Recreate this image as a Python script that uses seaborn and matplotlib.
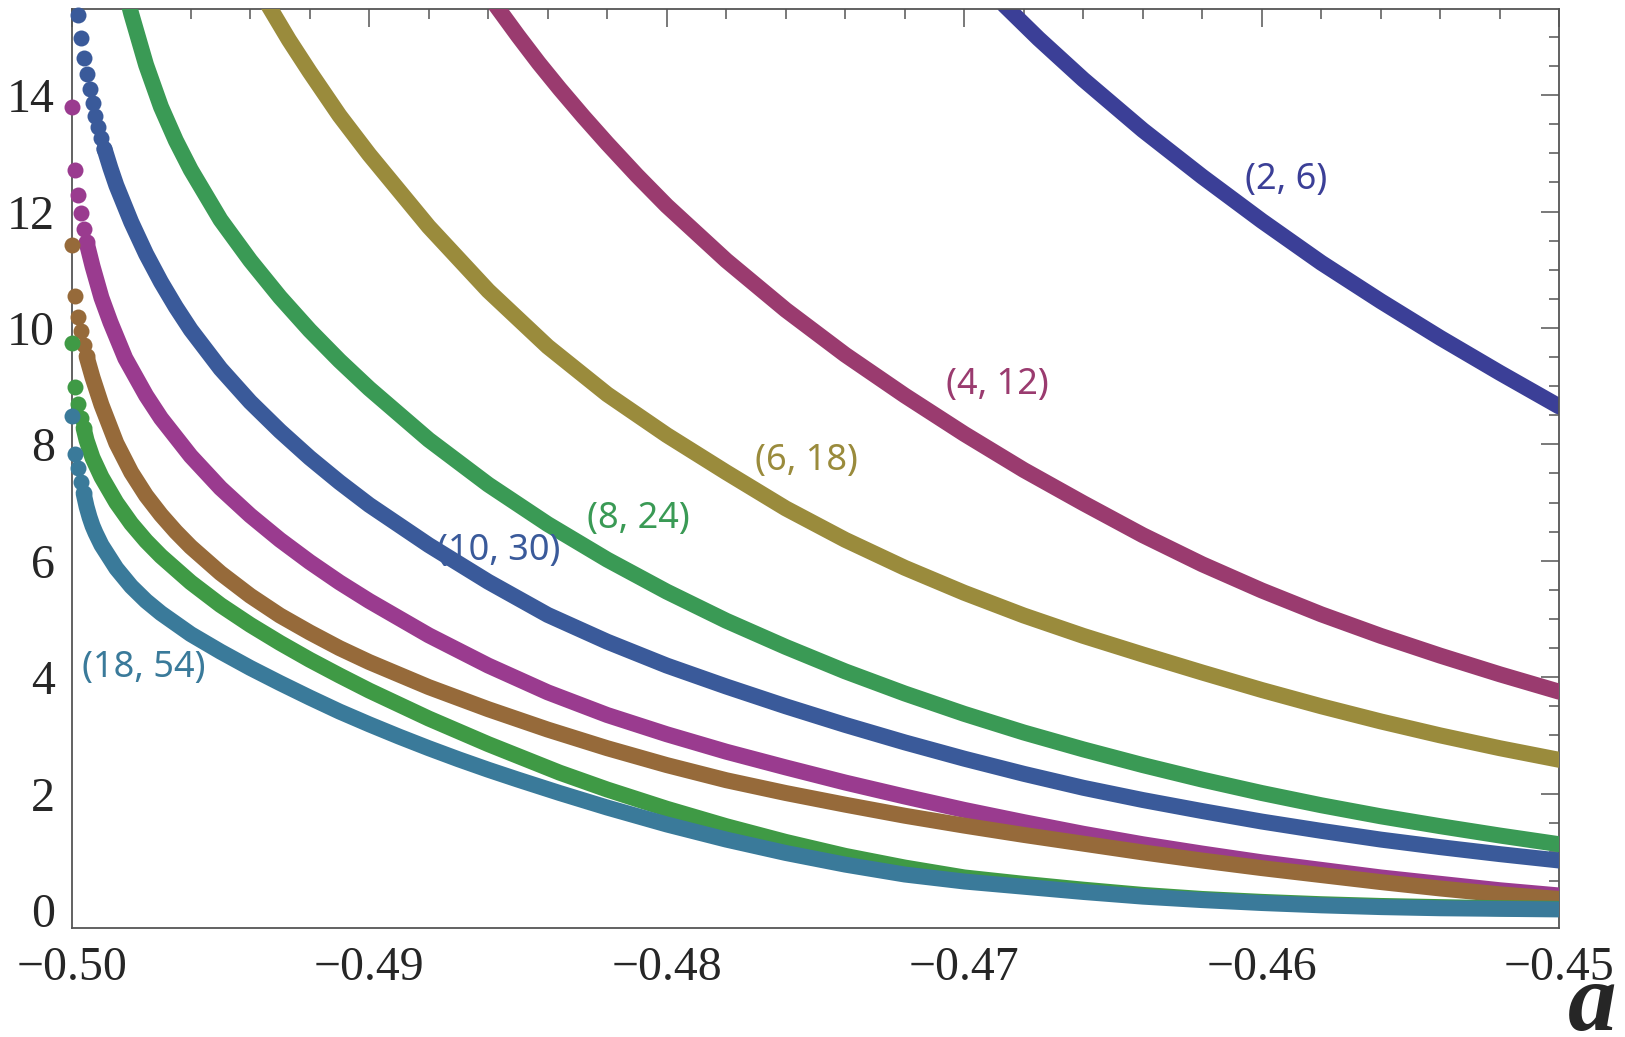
import numpy as np
import pandas as pd
import seaborn as sns
import matplotlib.pyplot as plt
from matplotlib.ticker import MultipleLocator, FixedLocator, FixedFormatter

# ---- data: value of each branch versus the parameter a ----
labels = ["(2, 6)", "(4, 12)", "(6, 18)", "(8, 24)", "(10, 30)",
          "(12, 36)", "(14, 42)", "(16, 48)", "(18, 54)"]
colors = ["#3b3f97", "#9a3b6f", "#9a8b3c", "#3a9a55", "#3a5a9a",
          "#9a3b8f", "#966a3a", "#3f9a45", "#3a7a9a"]

x_2_6 = [-0.46866, -0.4675, -0.466, -0.464, -0.462, -0.460, -0.458, -0.456, -0.454, -0.452, -0.450]
y_2_6 = [15.55, 14.97, 14.27, 13.40, 12.60, 11.84, 11.12, 10.46, 9.83, 9.23, 8.65]

x_4_12 = [-0.4858, -0.485, -0.4843, -0.4836, -0.4828, -0.482, -0.481, -0.480, -0.478, -0.476,
          -0.474, -0.472, -0.470, -0.468, -0.466, -0.464, -0.462, -0.460, -0.458, -0.456,
          -0.454, -0.452, -0.450]
y_4_12 = [15.58, 15.02, 14.55, 14.11, 13.63, 13.17, 12.62, 12.10, 11.16, 10.31,
          9.54, 8.84, 8.18, 7.56, 6.99, 6.44, 5.94, 5.49, 5.08, 4.71,
          4.37, 4.05, 3.75]

x_6_18 = [-0.4934, -0.4927, -0.492, -0.491, -0.490, -0.488, -0.486, -0.484, -0.482, -0.480,
          -0.478, -0.476, -0.474, -0.472, -0.470, -0.468, -0.466, -0.464, -0.462, -0.460,
          -0.458, -0.456, -0.454, -0.452, -0.450]
y_6_18 = [15.55, 14.95, 14.40, 13.65, 12.98, 11.74, 10.64, 9.68, 8.86, 8.16,
          7.52, 6.90, 6.36, 5.88, 5.45, 5.06, 4.71, 4.39, 4.08, 3.78,
          3.50, 3.24, 3.00, 2.78, 2.58]

x_8_24 = [-0.4981, -0.498, -0.4975, -0.497, -0.4965, -0.496, -0.495, -0.494, -0.493, -0.492,
          -0.491, -0.490, -0.488, -0.486, -0.484, -0.482, -0.480, -0.478, -0.476, -0.474,
          -0.472, -0.470, -0.468, -0.466, -0.464, -0.462, -0.460, -0.458, -0.456, -0.454,
          -0.452, -0.450]
y_8_24 = [15.6, 15.40, 14.52, 13.80, 13.22, 12.72, 11.86, 11.16, 10.53, 9.96,
          9.44, 8.96, 8.08, 7.31, 6.63, 6.02, 5.47, 4.97, 4.52, 4.10,
          3.72, 3.37, 3.05, 2.76, 2.49, 2.24, 2.01, 1.80, 1.61, 1.44,
          1.28, 1.13]

x_10_30 = [-0.4998, -0.4997, -0.4996, -0.4995, -0.4994, -0.4993, -0.4992, -0.4991, -0.4990, -0.4989,
           -0.4987, -0.4985, -0.498, -0.4975, -0.497, -0.4965, -0.496, -0.495, -0.494, -0.493,
           -0.492, -0.491, -0.490, -0.488, -0.486, -0.484, -0.482, -0.480, -0.478, -0.476,
           -0.474, -0.472, -0.470, -0.468, -0.466, -0.464, -0.462, -0.460, -0.458, -0.456,
           -0.454, -0.452, -0.450]
y_10_30 = [15.38, 14.98, 14.63, 14.36, 14.10, 13.86, 13.65, 13.45, 13.26, 13.08,
           12.75, 12.45, 11.82, 11.27, 10.79, 10.36, 9.97, 9.30, 8.73, 8.23,
           7.77, 7.35, 6.96, 6.27, 5.64, 5.07, 4.61, 4.20, 3.84, 3.50,
           3.18, 2.88, 2.60, 2.34, 2.10, 1.89, 1.70, 1.52, 1.36, 1.21,
           1.08, 0.96, 0.85]

x_12_36 = [-0.5, -0.4999, -0.4998, -0.4997, -0.4996, -0.4995, -0.4993, -0.499, -0.4987, -0.4982,
           -0.4975, -0.497, -0.496, -0.495, -0.494, -0.493, -0.492, -0.491, -0.490, -0.488,
           -0.486, -0.484, -0.482, -0.480, -0.478, -0.476, -0.474, -0.472, -0.470, -0.468,
           -0.466, -0.464, -0.462, -0.460, -0.458, -0.456, -0.454, -0.452, -0.450]
y_12_36 = [13.79, 12.71, 12.29, 11.97, 11.70, 11.47, 11.06, 10.52, 10.10, 9.48,
           8.84, 8.45, 7.80, 7.25, 6.78, 6.36, 5.98, 5.63, 5.31, 4.72,
           4.20, 3.74, 3.35, 3.02, 2.72, 2.45, 2.19, 1.95, 1.72, 1.51,
           1.31, 1.13, 0.97, 0.82, 0.69, 0.56, 0.45, 0.34, 0.25]

x_14_42 = [-0.5, -0.4999, -0.4998, -0.4997, -0.4996, -0.4995, -0.4993, -0.499, -0.4985, -0.498,
           -0.4975, -0.497, -0.4965, -0.496, -0.495, -0.494, -0.493, -0.492, -0.491, -0.490,
           -0.488, -0.486, -0.484, -0.482, -0.480, -0.478, -0.476, -0.474, -0.472, -0.470,
           -0.468, -0.466, -0.464, -0.462, -0.460, -0.458, -0.456, -0.454, -0.452, -0.450]
y_14_42 = [11.43, 10.55, 10.19, 9.94, 9.71, 9.51, 9.15, 8.68, 8.02, 7.52,
           7.12, 6.79, 6.50, 6.24, 5.79, 5.40, 5.06, 4.77, 4.50, 4.26,
           3.83, 3.45, 3.10, 2.78, 2.49, 2.23, 2.01, 1.81, 1.62, 1.45,
           1.29, 1.14, 0.99, 0.85, 0.72, 0.60, 0.48, 0.37, 0.27, 0.19]

x_16_48 = [-0.5, -0.4999, -0.4998, -0.4997, -0.4996, -0.4995, -0.4993, -0.499, -0.4985, -0.498,
           -0.4975, -0.497, -0.496, -0.495, -0.494, -0.493, -0.492, -0.491, -0.490, -0.488,
           -0.486, -0.4836, -0.482, -0.480, -0.478, -0.476, -0.474, -0.472, -0.470, -0.468,
           -0.466, -0.464, -0.462, -0.460, -0.458, -0.456, -0.454, -0.452, -0.450]
y_16_48 = [9.75, 8.99, 8.69, 8.45, 8.28, 8.07, 7.77, 7.44, 7.00, 6.64,
           6.34, 6.08, 5.63, 5.24, 4.90, 4.59, 4.30, 4.03, 3.77, 3.29,
           2.85, 2.36, 2.07, 1.74, 1.44, 1.17, 0.93, 0.73, 0.56, 0.45,
           0.35, 0.26, 0.19, 0.14, 0.10, 0.07, 0.05, 0.03, 0.02]

x_18_54 = [-0.5, -0.4999, -0.4998, -0.4997, -0.4996, -0.4995, -0.4994, -0.4993, -0.4992, -0.499,
           -0.4985, -0.498, -0.4975, -0.497, -0.496, -0.4957, -0.495, -0.494, -0.493, -0.492,
           -0.491, -0.490, -0.489, -0.488, -0.487, -0.486, -0.485, -0.4836, -0.482, -0.480,
           -0.478, -0.476, -0.474, -0.472, -0.470, -0.468, -0.466, -0.464, -0.462, -0.460,
           -0.458, -0.456, -0.454, -0.452, -0.450]
y_18_54 = [8.49, 7.84, 7.60, 7.36, 7.16, 6.93, 6.75, 6.60, 6.48, 6.27,
           5.87, 5.56, 5.31, 5.10, 4.74, 4.65, 4.44, 4.16, 3.90, 3.65,
           3.41, 3.19, 2.98, 2.78, 2.59, 2.41, 2.24, 2.01, 1.76, 1.47,
           1.21, 0.98, 0.78, 0.61, 0.49, 0.40, 0.31, 0.23, 0.17, 0.12,
           0.08, 0.05, 0.03, 0.02, 0.01]

# how many leading samples of each branch show up as separate dots
n_dots = [0, 0, 0, 0, 10, 6, 6, 5, 5]

# where the branch labels sit
label_x = [-0.45918, -0.46890, -0.47531, -0.48094, -0.48564, None, None, None, -0.49757]
label_y = [12.54, 9.02, 7.71, 6.72, 6.17, None, None, None, 4.16]

series = [(x_2_6, y_2_6), (x_4_12, y_4_12), (x_6_18, y_6_18), (x_8_24, y_8_24),
          (x_10_30, y_10_30), (x_12_36, y_12_36), (x_14_42, y_14_42),
          (x_16_48, y_16_48), (x_18_54, y_18_54)]

x_ticks = [-0.50, -0.49, -0.48, -0.47, -0.46, -0.45]
x_tick_labels = ["\u22120.50", "\u22120.49", "\u22120.48", "\u22120.47", "\u22120.46", "\u22120.45"]
y_ticks = [0, 2, 4, 6, 8, 10, 12, 14]

# ---- figure ----
sns.set_theme(style="white")
plt.rcParams["font.family"] = ["Liberation Serif", "DejaVu Serif"]

DPI = 100
fig = plt.figure(figsize=(16.25, 10.37), dpi=DPI)
ax = fig.add_axes([0.04412, 0.10511, 0.91545, 0.88621])

LW = 11.5          # band width in points, equal to the dot diameter
DOT = LW ** 2

for i, ((xs, ys), col) in enumerate(zip(series, colors)):
    df = pd.DataFrame({"a": xs, "v": ys})
    nd = n_dots[i]
    band = df.iloc[max(nd - 1, 0):]
    sns.lineplot(data=band, x="a", y="v", ax=ax, color=col, linewidth=LW,
                 sort=False, estimator=None, solid_capstyle="round",
                 solid_joinstyle="round", zorder=2 + i)
    if nd:
        sns.scatterplot(data=df.iloc[:nd], x="a", y="v", ax=ax, color=col,
                        s=DOT, linewidth=0, zorder=2 + i, clip_on=False)

for i, lab in enumerate(labels):
    if label_x[i] is None:
        continue
    ax.text(label_x[i], label_y[i], lab, color=colors[i], fontsize=26,
            family=["Noto Sans", "DejaVu Sans"], fontweight="light",
            ha="center", va="center", zorder=20)

ax.set_xlim(-0.5, -0.45)
ax.set_ylim(-0.309, 15.48)
ax.set_xlabel("")
ax.set_ylabel("")

ax.xaxis.set_major_locator(FixedLocator(x_ticks))
ax.xaxis.set_major_formatter(FixedFormatter(x_tick_labels))
ax.xaxis.set_minor_locator(MultipleLocator(0.002))
ax.yaxis.set_major_locator(FixedLocator(y_ticks))
ax.yaxis.set_minor_locator(MultipleLocator(0.5))

for side in ["left", "right", "top", "bottom"]:
    ax.spines[side].set_visible(True)
    ax.spines[side].set_color("#555555")
    ax.spines[side].set_linewidth(1.3)

ax.tick_params(which="both", direction="in", top=True, right=True,
               color="#555555", width=1.1)
ax.tick_params(which="major", length=13, labelsize=34.5, pad=12)
ax.tick_params(which="minor", length=7.5)
ax.tick_params(axis="x", which="major", labelsize=34.5, pad=13)

# axis name drawn below the right end of the horizontal axis
fig.text(1592 / 1625, (1037 - 1030) / 1037, "a", fontsize=70, fontweight="bold",
         fontstyle="italic", family=["Liberation Serif", "DejaVu Serif"],
         ha="center", va="baseline")

fig.savefig("out.png", dpi=DPI, facecolor="white")
